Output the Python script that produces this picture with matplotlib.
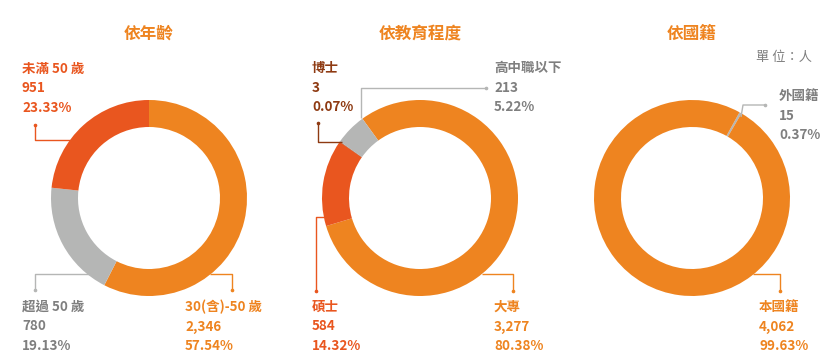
import matplotlib
matplotlib.use('Agg')
import matplotlib.pyplot as plt

plt.rcParams['font.family'] = ['Noto Sans CJK TC', 'DejaVu Sans']

# data
age_labels = ['30(含)-50 歲', '超過 50 歲', '未滿 50 歲']
age_counts = [2346, 780, 951]
edu_labels = ['大專', '碩士', '博士', '高中職以下']
edu_counts = [3277, 584, 3, 213]
nat_labels = ['外國籍', '本國籍']
nat_counts = [15, 4062]
titles = ['依年齡', '依教育程度', '依國籍']

ORANGE = '#EE8420'
RED = '#E9561F'
GRAY = '#B5B6B5'
BROWN = '#8E3A12'
TGRAY = '#7F7F7F'

W, H = 836, 364
fig = plt.figure(figsize=(W / 100, H / 100), dpi=100)
ax = fig.add_axes([0, 0, 1, 1])


def Y(y):
    return H - y


def donut(counts, colors, cx, start):
    ax.pie(counts, colors=colors, center=(cx, Y(198)), radius=98,
           startangle=start, counterclock=False,
           wedgeprops=dict(width=27, linewidth=0))


def label(x, y, name, count, total, color):
    txt = [name, f'{count:,}', f'{count / total * 100:.2f}%']
    for i, t in enumerate(txt):
        ax.text(x, Y(y + i * 19.5), t, color=color, fontsize=9.7,
                fontweight='bold', ha='left', va='center')


def leader(xs, ys, color):
    ax.plot(xs, [Y(v) for v in ys], color=color, lw=1, solid_capstyle='butt')
    ax.plot(xs[-1], Y(ys[-1]), 'o', color=color, ms=1.6)


donut(age_counts, [ORANGE, GRAY, RED], 149, 90)
donut(edu_counts, [ORANGE, RED, BROWN, GRAY], 420, 126)
donut(nat_counts, [GRAY, ORANGE], 692, 61)

for t, cx in zip(titles, [149, 420, 692]):
    ax.text(cx, Y(34), t, color=ORANGE, fontsize=12, fontweight='bold',
            ha='center', va='center')
ax.text(812, Y(57), '單 位：人', color=TGRAY, fontsize=9.5,
        ha='right', va='center')

age_total = sum(age_counts)
label(22, 69, age_labels[2], age_counts[2], age_total, RED)
leader([70, 35, 35], [140, 140, 125], RED)
label(22, 307, age_labels[1], age_counts[1], age_total, TGRAY)
leader([90, 35, 35], [274, 274, 290], GRAY)
label(185, 307, age_labels[0], age_counts[0], age_total, ORANGE)
leader([210, 232, 232], [274, 274, 290], ORANGE)

edu_total = sum(edu_counts)
label(312, 68, edu_labels[2], edu_counts[2], edu_total, BROWN)
leader([342, 318, 318], [142, 142, 123], BROWN)
label(494, 68, edu_labels[3], edu_counts[3], edu_total, TGRAY)
leader([361, 361, 486], [118, 88, 88], GRAY)
label(312, 307, edu_labels[1], edu_counts[1], edu_total, RED)
leader([328, 316, 316], [217, 217, 291], RED)
label(494, 307, edu_labels[0], edu_counts[0], edu_total, ORANGE)
leader([482, 513, 513], [274, 274, 291], ORANGE)

nat_total = sum(nat_counts)
label(779, 96, nat_labels[0], nat_counts[0], nat_total, TGRAY)
leader([741, 743, 765], [117, 105, 105], GRAY)
label(759, 307, nat_labels[1], nat_counts[1], nat_total, ORANGE)
leader([753, 780, 780], [274, 274, 291], ORANGE)

ax.set_xlim(0, W)
ax.set_ylim(0, H)
ax.set_aspect('equal')
ax.axis('off')

fig.savefig('out.png', dpi=100)
